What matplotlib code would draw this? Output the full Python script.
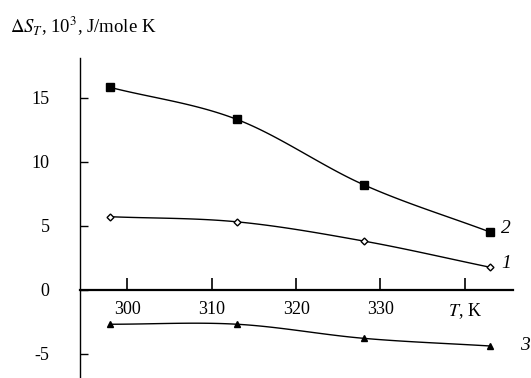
import numpy as np
import matplotlib
matplotlib.use("Agg")
import matplotlib.pyplot as plt

plt.rcParams["font.family"] = ["Liberation Serif", "DejaVu Serif"]
plt.rcParams["mathtext.fontset"] = "stix"

# temperatures (K) and entropy values (x10^3 J/mole K)
temps = [298, 313, 328, 343]
s1 = [5.7, 5.3, 3.8, 1.75]
s2 = [15.8, 13.3, 8.2, 4.5]
s3 = [-2.7, -2.7, -3.8, -4.4]

xticks = [300, 310, 320, 330, 340]
xticklabels = ["300", "310", "320", "330", "$T$, K"]
yticks = [-5, 0, 5, 10, 15]
yticklabels = ["-5", "0", "5", "10", "15"]


def smooth(x, y, n=40):
    """Catmull-Rom curve through the points, for a drawn-by-hand look."""
    x = np.asarray(x, dtype=float)
    y = np.asarray(y, dtype=float)
    px = np.concatenate([[2 * x[0] - x[1]], x, [2 * x[-1] - x[-2]]])
    py = np.concatenate([[2 * y[0] - y[1]], y, [2 * y[-1] - y[-2]]])
    xs, ys = [], []
    t = np.linspace(0, 1, n)
    for i in range(1, len(px) - 2):
        for p, out in ((px, xs), (py, ys)):
            p0, p1, p2, p3 = p[i - 1], p[i], p[i + 1], p[i + 2]
            out.append(0.5 * (2 * p1 + (-p0 + p2) * t
                              + (2 * p0 - 5 * p1 + 4 * p2 - p3) * t ** 2
                              + (-p0 + 3 * p1 - 3 * p2 + p3) * t ** 3))
    return np.concatenate(xs), np.concatenate(ys)


fig = plt.figure(figsize=(5.31, 3.78), dpi=100)
ax = fig.add_axes([80 / 531, 0.0, 433 / 531, 1 - 58 / 378])

for ys, mk, ms, fc in [(s2, "s", 5.5, "black"), (s1, "D", 3.5, "white"), (s3, "^", 4.5, "black")]:
    cx, cy = smooth(temps, ys)
    ax.plot(cx, cy, color="black", lw=1.0)
    ax.plot(temps, ys, ls="none", marker=mk, ms=ms, mfc=fc, mec="black", mew=1.0)

ax.set_xlim(294.4, 345.7)
ax.set_ylim(-6.9, 18.1)

ax.spines["right"].set_visible(False)
ax.spines["top"].set_visible(False)
ax.spines["bottom"].set_position(("data", 0))
ax.spines["bottom"].set_linewidth(1.6)
ax.spines["left"].set_linewidth(1.0)

ax.set_xticks(xticks)
ax.set_xticklabels(xticklabels)
ax.set_yticks(yticks)
ax.set_yticklabels(yticklabels)
ax.tick_params(axis="x", direction="in", length=8.5, width=1.2, pad=8, labelsize=13)
ax.tick_params(axis="y", direction="in", length=6, width=1.0, pad=22, labelsize=13)

ax.text(344.3, s2[-1] + 0.3, "2", fontsize=14, style="italic", va="center")
ax.text(344.3, s1[-1] + 0.3, "1", fontsize=14, style="italic", va="center")
ax.text(346.5, s3[-1], "3", fontsize=14, style="italic", va="center", clip_on=False)

fig.text(10 / 531, 1 - 26 / 378, r"$\Delta S_{T}$, 10$^3$, J/mole K", fontsize=13.5,
         va="center", ha="left")

fig.savefig("out.png", dpi=100)
